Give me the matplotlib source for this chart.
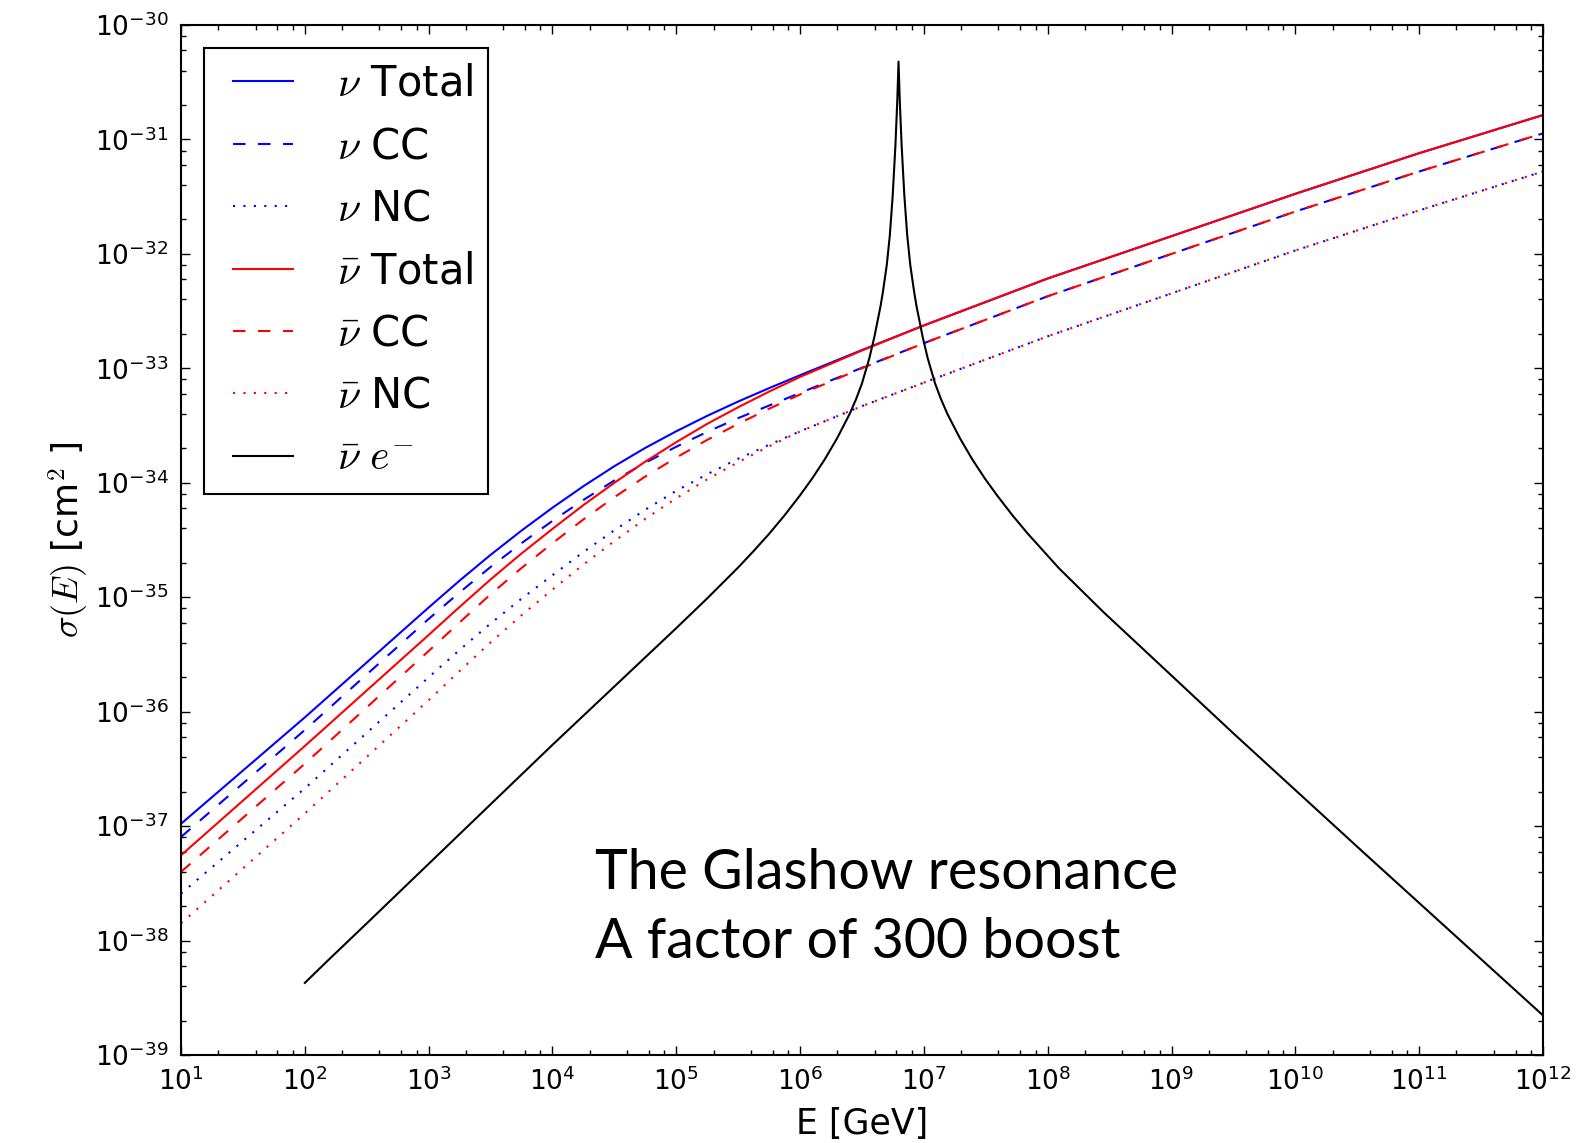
import numpy as np
import matplotlib
matplotlib.use("Agg")
import matplotlib.pyplot as plt
from matplotlib.ticker import NullFormatter
from matplotlib.lines import Line2D
from matplotlib.legend_handler import HandlerLine2D

plt.rcParams['font.family'] = ['DejaVu Sans']
plt.rcParams['mathtext.fontset'] = 'cm'
plt.rcParams['axes.unicode_minus'] = False

# ---- data: log10(E / GeV) and log10(sigma / cm^2)
logE_nuN = [1, 2, 3, 3.25, 3.5, 3.75, 4, 4.25, 4.5, 4.75, 5, 5.25, 5.5, 5.75,
            6, 6.5, 7, 8, 9, 10, 11, 12]

nu_total_log = [-36.98, -36.05, -35.09, -34.855, -34.63, -34.418, -34.218,
                -34.030, -33.855, -33.695, -33.550, -33.415, -33.290, -33.173,
                -33.060, -32.840, -32.625, -32.215, -31.845, -31.475, -31.12,
                -30.787]
nu_cc_log = [-37.095, -36.16, -35.19, -34.958, -34.736, -34.528, -34.333,
             -34.150, -33.980, -33.825, -33.685, -33.555, -33.435, -33.325,
             -33.215, -32.995, -32.780, -32.370, -32.000, -31.630, -31.280,
             -30.947]
nu_nc_log = [-37.59, -36.67, -35.70, -35.46, -35.23, -35.013, -34.808, -34.605,
             -34.415, -34.235, -34.070, -33.925, -33.790, -33.668, -33.550,
             -33.330, -33.125, -32.720, -32.345, -31.970, -31.620, -31.280]
nubar_total_log = [-37.255, -36.30, -35.33, -35.085, -34.845, -34.618, -34.403,
                   -34.195, -34.000, -33.815, -33.645, -33.485, -33.340, -33.203,
                   -33.075, -32.844, -32.625, -32.215, -31.845, -31.475, -31.12,
                   -30.787]
nubar_cc_log = [-37.40, -36.455, -35.47, -35.22, -34.975, -34.745, -34.528,
                -34.320, -34.126, -33.945, -33.780, -33.625, -33.485, -33.353,
                -33.228, -32.999, -32.780, -32.370, -32.000, -31.630, -31.280,
                -30.947]
nubar_nc_log = [-37.85, -36.89, -35.90, -35.645, -35.395, -35.158, -34.933,
                -34.715, -34.510, -34.315, -34.135, -33.970, -33.820, -33.681,
                -33.551, -33.330, -33.125, -32.720, -32.345, -31.970, -31.620,
                -31.280]

logE_glashow = [2.0, 2.2, 2.5, 3.0, 3.5, 4.0, 4.5, 5.0, 5.25, 5.5, 5.625,
                5.75, 5.875, 6.0, 6.1, 6.2, 6.3, 6.4, 6.453, 6.5, 6.56, 6.6,
                6.65, 6.668, 6.7, 6.725, 6.748, 6.77, 6.785, 6.795, 6.805,
                6.82, 6.842, 6.865, 6.89, 6.922, 6.94, 6.99, 7.03, 7.09, 7.137,
                7.19, 7.29, 7.39, 7.49, 7.59, 7.715, 7.84, 8.09, 8.45, 8.738,
                9.5, 10.54, 12.0]
glashow_log = [-38.37, -38.16, -37.85, -37.33, -36.81, -36.29, -35.78, -35.27,
               -35.01, -34.74, -34.596, -34.446, -34.284, -34.109, -33.959,
               -33.794, -33.609, -33.399, -33.267, -33.131, -32.909, -32.725,
               -32.455, -32.338, -32.098, -31.835, -31.49, -31.05, -30.66,
               -30.32, -30.66, -31.05, -31.49, -31.835, -32.098, -32.338,
               -32.455, -32.725, -32.909, -33.131, -33.267, -33.399, -33.609,
               -33.794, -33.959, -34.109, -34.284, -34.446, -34.746, -35.13,
               -35.42, -36.19, -37.22, -38.654]

labels = [r'$\nu$ Total', r'$\nu$ CC', r'$\nu$ NC', r'$\bar{\nu}$ Total',
          r'$\bar{\nu}$ CC', r'$\bar{\nu}$ NC', r'$\bar{\nu}\ e^{-}$']

series = [
    (nu_total_log, 'b', '-'),
    (nu_cc_log, 'b', (0, (6, 6))),
    (nu_nc_log, 'b', (0, (1, 4))),
    (nubar_total_log, 'r', '-'),
    (nubar_cc_log, 'r', (0, (6, 6))),
    (nubar_nc_log, 'r', (0, (1, 4))),
]

fig = plt.figure(figsize=(15.88, 11.43), dpi=100)
ax = fig.add_axes([0.11398, 0.07699, 0.85768, 0.90114])

E = 10.0 ** np.array(logE_nuN)
for (vals, c, ls), lab in zip(series, labels[:6]):
    ax.plot(E, 10.0 ** np.array(vals), color=c, linestyle=ls, lw=1.5, label=lab)
ax.plot(10.0 ** np.array(logE_glashow), 10.0 ** np.array(glashow_log),
        color='k', lw=1.5, label=labels[6])

ax.set_xscale('log')
ax.set_yscale('log')
ax.set_xlim(1e1, 1e12)
ax.set_ylim(1e-39, 1e-30)

xmaj = 10.0 ** np.arange(1, 13)
ymaj = 10.0 ** np.arange(-39, -29)
ax.set_xticks(xmaj)
ax.set_yticks(ymaj)
ax.set_xticks([m * 10.0 ** k for k in range(1, 12) for m in (2, 4, 6, 8)],
              minor=True)
ax.set_yticks([m * 10.0 ** k for k in range(-39, -30) for m in (2, 4, 6, 8)],
              minor=True)
ax.xaxis.set_minor_formatter(NullFormatter())
ax.yaxis.set_minor_formatter(NullFormatter())

ax.tick_params(which='both', direction='in', top=True, right=True, labelsize=19)
ax.tick_params(which='major', length=6.5, width=1.0, pad=9)
ax.tick_params(which='minor', length=3.6, width=1.0)
for sp in ax.spines.values():
    sp.set_linewidth(1.5)

ax.set_xlabel('E [GeV]', fontsize=25, labelpad=8)
ax.set_ylabel(r'$\sigma(E)$ [cm$^2$ ]', fontsize=26, labelpad=3)

leg = ax.legend(loc='upper left', fontsize=30, handlelength=1.78,
                handletextpad=1.05, labelspacing=0.49, borderpad=0.36,
                borderaxespad=0.55, fancybox=False, framealpha=1,
                edgecolor='k',
                handler_map={Line2D: HandlerLine2D(xpad=0.33)})
leg.get_frame().set_linewidth(1.5)

ax.text(0.3036, 0.0942, 'The Glashow resonance\nA factor of 300 boost',
        transform=ax.transAxes, fontsize=40, family=['Lato', 'DejaVu Sans'],
        ha='left', va='baseline', linespacing=1.43)

fig.savefig('out.png', dpi=100)
